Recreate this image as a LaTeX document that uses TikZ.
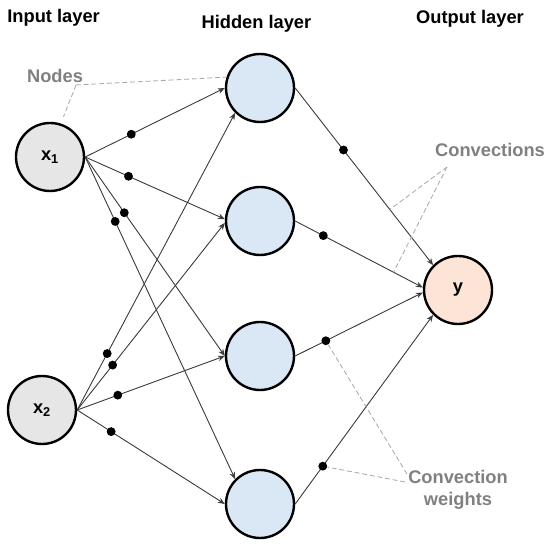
\documentclass[tikz,border=0pt]{standalone}
\usepackage{fontspec}
\setmainfont{Liberation Sans}
\definecolor{nninput}{RGB}{230,230,230}
\definecolor{nnhidden}{RGB}{218,232,246}
\definecolor{nnoutput}{RGB}{252,228,214}
\definecolor{nnline}{RGB}{60,60,60}
\definecolor{nnnote}{RGB}{128,128,128}
\definecolor{nnguide}{RGB}{170,170,170}
\usepackage{tikz}
\usetikzlibrary{arrows.meta,positioning,calc}

\begin{document}
\begin{tikzpicture}[
  neuron/.style={draw=black, line width=1.7pt, circle, minimum size=1.7cm, inner sep=0pt, font=\fontsize{13}{15.6}\selectfont\bfseries},
  conn/.style={-{Stealth[length=5pt,width=4pt]}, line width=0.65pt, nnline},
  wdot/.style={fill=black, circle, inner sep=0pt, minimum size=6.3pt},
  guide/.style={dash pattern=on 3.5pt off 2pt, line width=0.6pt, nnguide},
  title/.style={anchor=base, font=\fontsize{13}{15.6}\selectfont\bfseries},
  note/.style={text=nnnote, align=center, font=\fontsize{13}{15.6}\selectfont\bfseries}
]
  \useasboundingbox (0,0) rectangle (13.75,13.6);

  \node[title] (tin) at (1.34,13.03) {Input layer};
  \node[title] (thid) at (6.41,12.89) {Hidden layer};
  \node[title] (tout) at (11.75,13.02) {Output layer};

  \node[neuron, fill=nninput] (x1) at (1.25,9.675) {x\textsubscript{1}};
  \node[neuron, fill=nninput] (x2) at (1.05,3.35) {x\textsubscript{2}};
  \node[neuron, fill=nnhidden] (h1) at (6.5,11.4) {};
  \node[neuron, fill=nnhidden] (h2) at (6.5,8.075) {};
  \node[neuron, fill=nnhidden] (h3) at (6.5,4.7) {};
  \node[neuron, fill=nnhidden] (h4) at (6.5,1.0) {};
  \node[neuron, fill=nnoutput] (y) at (11.45,6.35) {y};

  \draw[conn] (x1.east) -- node[wdot, pos=0.33] (d11) {} (h1.west);
  \draw[conn] (x1.east) -- node[wdot, pos=0.31] (d12) {} (h2.177);
  \draw[conn] (x1.east) -- node[wdot, pos=0.28] (d13) {} (h3.west);
  \draw[conn] (x1.east) -- node[wdot, pos=0.20] (d14) {} (h4.north west);
  \draw[conn] (x2.east) -- node[wdot, pos=0.19] (d21) {} (h1.south west);
  \draw[conn] (x2.east) -- node[wdot, pos=0.24] (d22) {} (h2.183);
  \draw[conn] (x2.east) -- node[wdot, pos=0.275] (d23) {} (h3.west);
  \draw[conn] (x2.east) -- node[wdot, pos=0.23] (d24) {} (h4.west);
  \draw[conn] (h1.east) -- node[wdot, pos=0.35] (d31) {} coordinate[pos=0.686] (c1) (y.north west);
  \draw[conn] (h2.east) -- node[wdot, pos=0.22] (d32) {} coordinate[pos=0.77] (c2) (y.176);
  \draw[conn] (h3.east) -- node[wdot, pos=0.24] (d33) {} (y.184);
  \draw[conn] (h4.east) -- node[wdot, pos=0.20] (d34) {} (y.south west);

  \node[note, anchor=base] (lnodes) at (1.375,11.525) {Nodes};
  \coordinate (nodes-tip) at (1.9,11.475);
  \draw[guide] (nodes-tip) -- (h1.162);
  \draw[guide, shorten >=5pt] (nodes-tip) -- (x1.72);

  \node[note, anchor=base] (lconv) at (12.25,9.675) {Convections};
  \coordinate (conv-tip) at (11.175,9.425);
  \draw[guide] (conv-tip) -- (c1);
  \draw[guide] (conv-tip) -- (c2);

  \node[note] (lweights) at (11.45,1.36) {Convection\\weights};
  \coordinate (wa-tip) at (10.175,1.75);
  \coordinate (wb-tip) at (10.125,1.55);
  \draw[guide] (wa-tip) -- (d33);
  \draw[guide] (wb-tip) -- (d34);
\end{tikzpicture}
\end{document}
